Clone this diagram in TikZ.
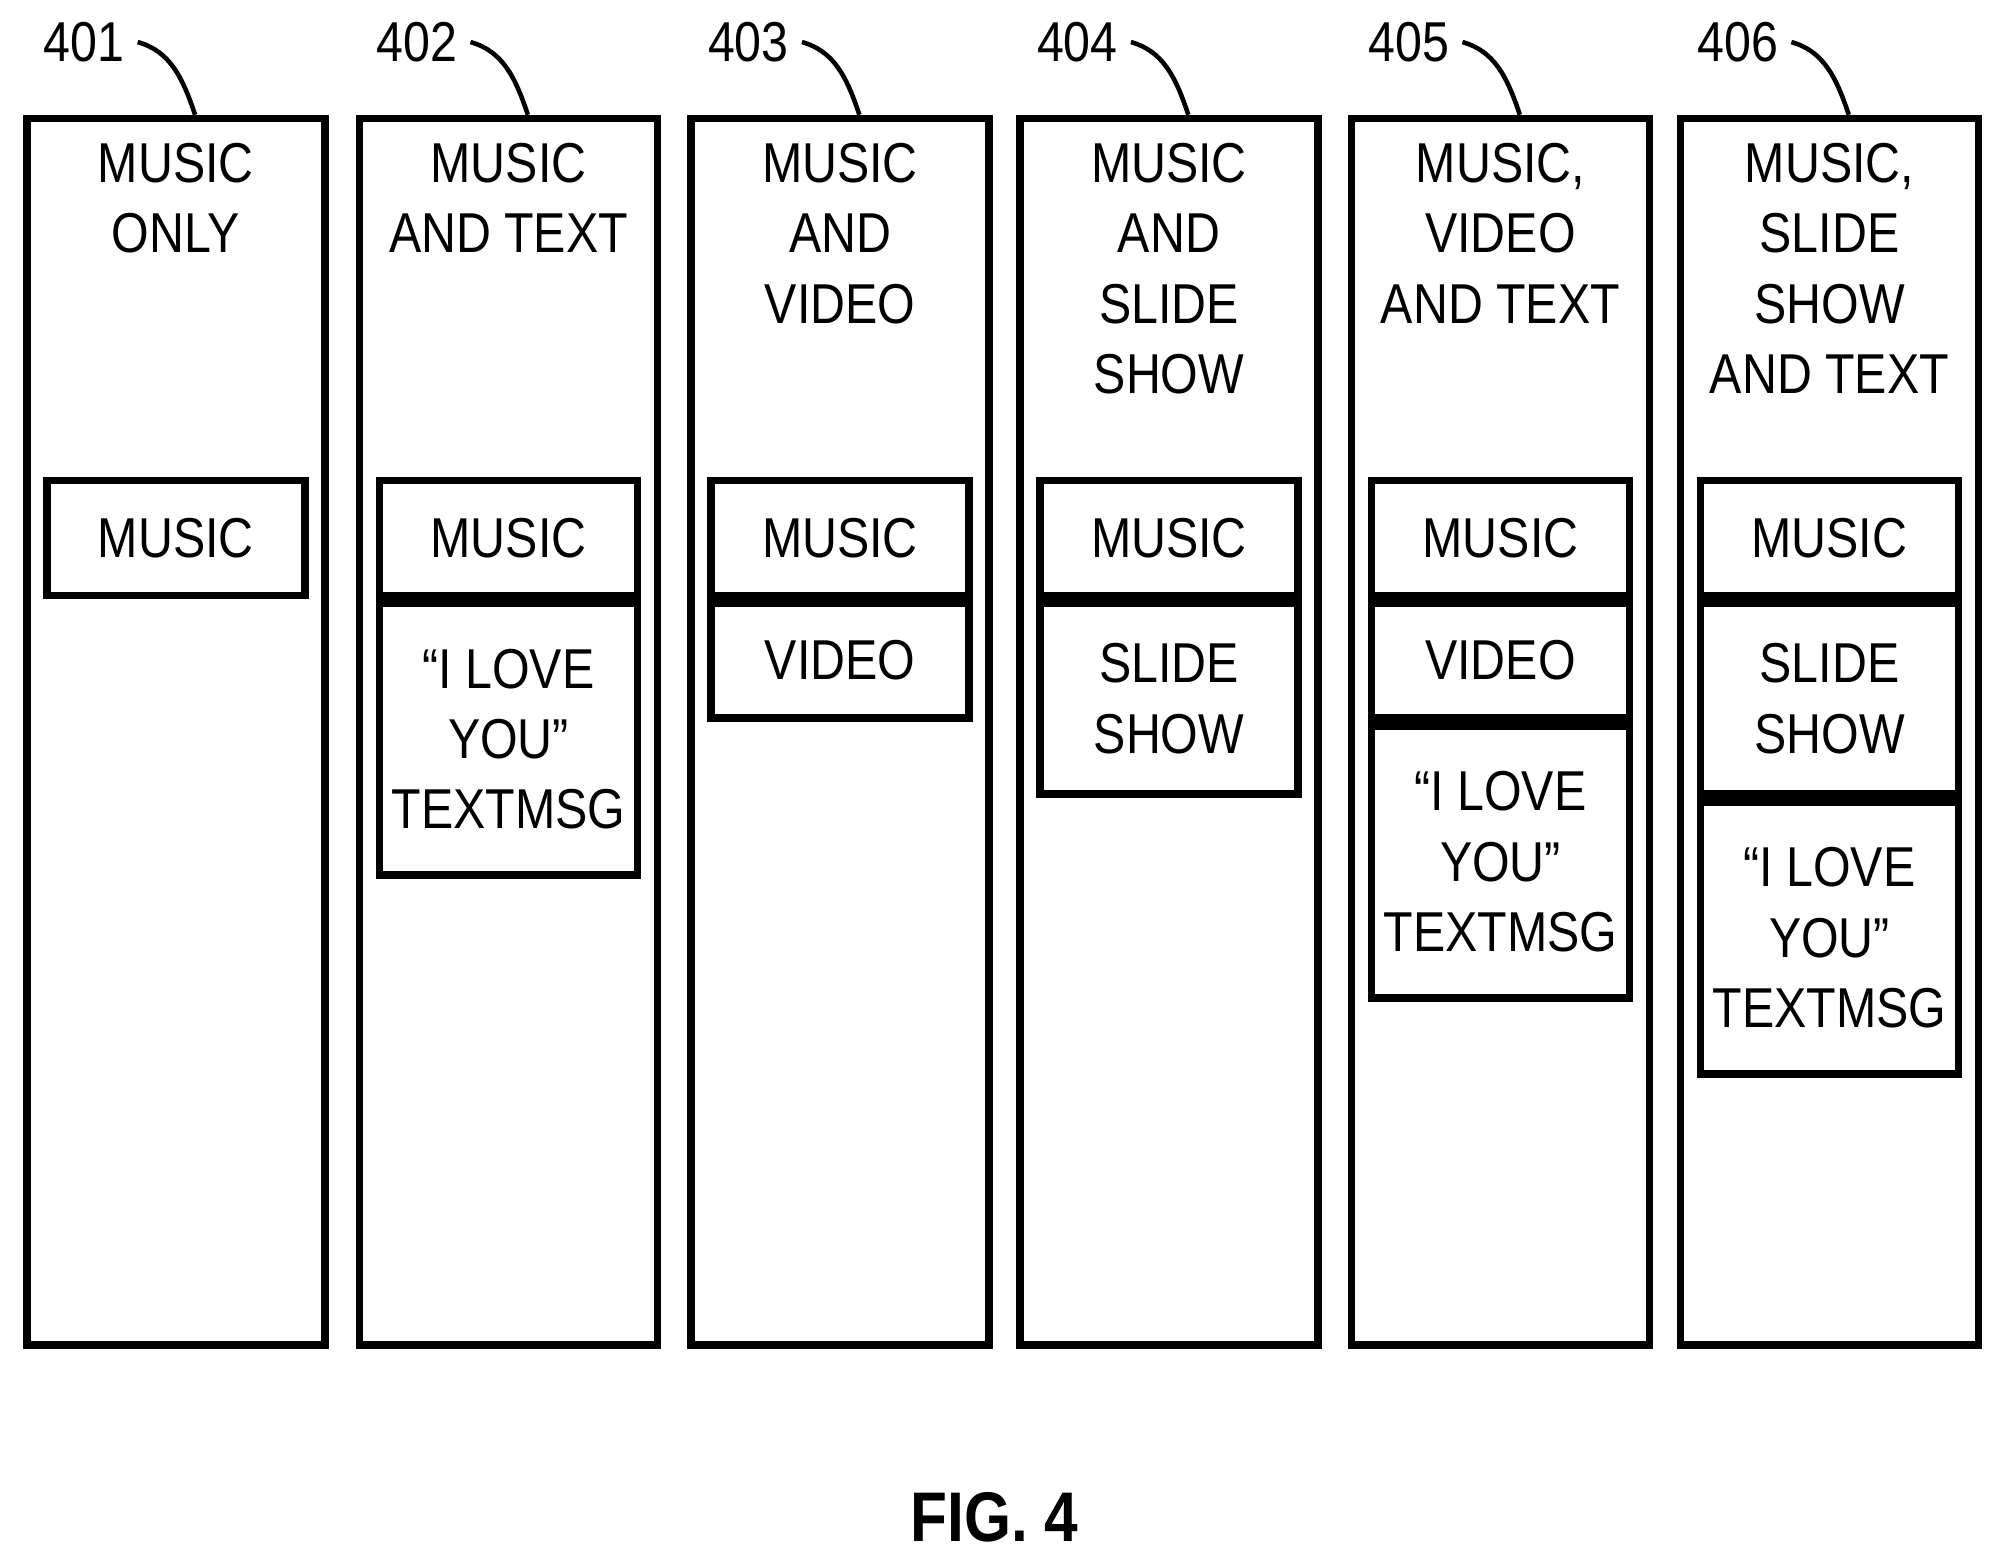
\documentclass[tikz,border=0pt]{standalone}
\usepackage{fontspec}
\setmainfont{Liberation Sans}[FakeStretch=0.86]
\usetikzlibrary{positioning}
\tikzset{
  col/.style={draw,line width=2.2pt,minimum width=2.98cm,minimum height=12.27cm,inner sep=0pt,anchor=north west},
  cell/.style={draw,line width=2.2pt,minimum width=2.58cm,inner sep=0pt,align=center,font=\fontsize{16}{20}\selectfont},
  head/.style={align=center,anchor=north,font=\fontsize{16}{20}\selectfont,inner sep=0pt},
  ref/.style={font=\fontsize{16}{20}\selectfont,inner sep=0pt},
  lead/.style={line width=1.3pt},
}
\begin{document}
\begin{tikzpicture}[x=0.01275cm,y=-0.01275cm]
  \useasboundingbox (0,0) rectangle (1560,1220);
  % columns
  \foreach \i/\x in {1/18,2/279,3/539,4/797,5/1057,6/1315}{
    \node[col] (c\i) at (\x,90) {};
    \node[ref] (r\i) at (\x+48,33) {40\i};
    \draw[lead] (\x+90,33) .. controls (\x+115,40) and (\x+125,60) .. (c\i.north -| {\x+135,0});
  }
  % headers
  \node[head] (h1) at ([yshift=-0.28cm]c1.north) {MUSIC\\ONLY};
  \node[head] (h2) at ([yshift=-0.28cm]c2.north) {MUSIC\\AND TEXT};
  \node[head] (h3) at ([yshift=-0.28cm]c3.north) {MUSIC\\AND\\VIDEO};
  \node[head] (h4) at ([yshift=-0.28cm]c4.north) {MUSIC\\AND\\SLIDE\\SHOW};
  \node[head] (h5) at ([yshift=-0.28cm]c5.north) {MUSIC,\\VIDEO\\AND TEXT};
  \node[head] (h6) at ([yshift=-0.28cm]c6.north) {MUSIC,\\SLIDE\\SHOW\\AND TEXT};
  % cells
  \foreach \i in {1,...,6}{
    \node[cell,minimum height=1.15cm,anchor=north] (m\i) at ([yshift=-3.62cm]c\i.north) {MUSIC};
  }
  \node[cell,minimum height=2.72cm,below=0pt of m2] (t2) {``I LOVE\\YOU''\\TEXTMSG};
  \node[cell,minimum height=1.15cm,below=0pt of m3] (v3) {VIDEO};
  \node[cell,minimum height=1.91cm,below=0pt of m4] (s4) {SLIDE\\SHOW};
  \node[cell,minimum height=1.15cm,below=0pt of m5] (v5) {VIDEO};
  \node[cell,minimum height=2.72cm,below=0pt of v5] (t5) {``I LOVE\\YOU''\\TEXTMSG};
  \node[cell,minimum height=1.91cm,below=0pt of m6] (s6) {SLIDE\\SHOW};
  \node[cell,minimum height=2.72cm,below=0pt of s6] (t6) {``I LOVE\\YOU''\\TEXTMSG};
  % caption
  \node[font=\fontsize{20}{24}\selectfont\bfseries] (fig) at (780,1190) {FIG. 4};
\end{tikzpicture}
\end{document}
